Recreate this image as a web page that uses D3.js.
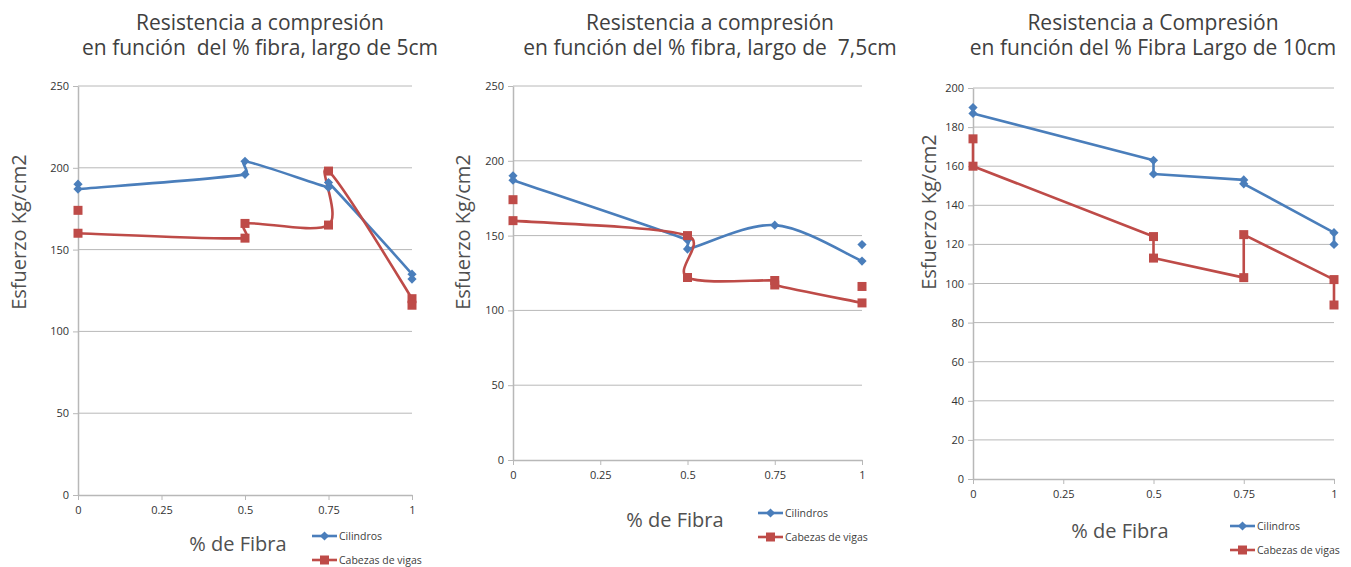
<!DOCTYPE html>
<html>
<head>
<meta charset="utf-8">
<script src="https://cdn.jsdelivr.net/npm/d3@7"></script>
<style>
  body { margin: 0; background: #fff; }
  text { font-family: "Open Sans", "Noto Sans", sans-serif; }
</style>
</head>
<body>
<svg id="chart" width="1351" height="567"></svg>
<script>
// Shared axis values
const xTicks = [0, 0.25, 0.5, 0.75, 1];
const yTicks250 = [0, 50, 100, 150, 200, 250];
const yTicks200 = [0, 20, 40, 60, 80, 100, 120, 140, 160, 180, 200];
const seriesNames = ["Cilindros", "Cabezas de vigas"];
const yAxisTitle = "Esfuerzo Kg/cm2";
const xAxisTitle = "% de Fibra";

// Fibre length 5 cm  ([% fibra, kg/cm2]; null = break in the line)
const cilindros5 = [[0, 190], null, [0, 187], [0.5, 196], [0.5, 204], [0.75, 188], [0.75, 191], [1, 135], [1, 132]];
const cabezas5   = [[0, 174], null, [0, 160], [0.5, 157], [0.5, 166], [0.75, 165], [0.75, 198], [1, 120], [1, 116]];
const titulo5 = ["Resistencia a compresión", "en función  del % fibra, largo de 5cm"];

// Fibre length 7.5 cm
const cilindros75 = [[0, 190], null, [0, 187], [0.5, 147], [0.5, 141], [0.75, 157], [1, 133], null, [1, 144]];
const cabezas75   = [[0, 174], null, [0, 160], [0.5, 150], [0.5, 122], [0.75, 120], [0.75, 117], [1, 105], null, [1, 116]];
const titulo75 = ["Resistencia a compresión", "en función del % fibra, largo de  7,5cm"];

// Fibre length 10 cm
const cilindros10 = [[0, 190], [0, 187], [0.5, 163], [0.5, 156], [0.75, 153], [0.75, 151], [1, 126], [1, 120]];
const cabezas10   = [[0, 174], [0, 160], [0.5, 124], [0.5, 113], [0.75, 103], [0.75, 125], [1, 102], [1, 89]];
const titulo10 = ["Resistencia a Compresión", "en función del % Fibra Largo de 10cm"];

const colors = ["#4a7ebb", "#be4b48"];
const textColor = "#404040";
const gridColor = "#b8b8b8";

const panels = [
  { title: titulo5, series: [cilindros5, cabezas5], yTicks: yTicks250, yMax: 250, smooth: true,
    plot: { x0: 78, x1: 412, y0: 86, y1: 495 }, titleX: 260,
    yLabel: { x: 18, y: 232 }, xLabel: { x: 238, y: 551 }, legend: { x: 312, y: 536 } },
  { title: titulo75, series: [cilindros75, cabezas75], yTicks: yTicks250, yMax: 250, smooth: true,
    plot: { x0: 513, x1: 862, y0: 86, y1: 460 }, titleX: 710,
    yLabel: { x: 462, y: 232 }, xLabel: { x: 675, y: 527 }, legend: { x: 758, y: 513 } },
  { title: titulo10, series: [cilindros10, cabezas10], yTicks: yTicks200, yMax: 200, smooth: false,
    plot: { x0: 973, x1: 1334, y0: 88, y1: 479 }, titleX: 1153,
    yLabel: { x: 928, y: 212 }, xLabel: { x: 1120, y: 538 }, legend: { x: 1230, y: 526 } }
];

const svg = d3.select("#chart");

function marker(g, kind, color) {
  if (kind === 0) {
    const r = 4.6;
    return g.append("path")
      .attr("d", `M0,${-r}L${r},0L0,${r}L${-r},0Z`)
      .attr("fill", color);
  }
  return g.append("path")
    .attr("d", d3.symbol(d3.symbolSquare, 81)())
    .attr("fill", color);
}

// Spreadsheet-style smoothed line: cubic Bezier per segment with control
// arms of 1/6 of the neighbour chord, capped at half the segment length.
function smoothPath(pts) {
  const p = d3.path();
  const dist = (a, b) => Math.hypot(b[0] - a[0], b[1] - a[1]);
  p.moveTo(pts[0][0], pts[0][1]);
  for (let i = 0; i < pts.length - 1; i++) {
    const p0 = pts[Math.max(i - 1, 0)], p1 = pts[i], p2 = pts[i + 1], p3 = pts[Math.min(i + 2, pts.length - 1)];
    const d12 = dist(p1, p2), d02 = dist(p0, p2), d13 = dist(p1, p3);
    let f = 1 / 6, g = 1 / 6;
    if (d02 / 6 >= d12 / 2 && d02 > 0) f = d12 / 2 / d02;
    if (d13 / 6 >= d12 / 2 && d13 > 0) g = d12 / 2 / d13;
    const c1 = [p1[0] + f * (p2[0] - p0[0]), p1[1] + f * (p2[1] - p0[1])];
    const c2 = [p2[0] - g * (p3[0] - p1[0]), p2[1] - g * (p3[1] - p1[1])];
    p.bezierCurveTo(c1[0], c1[1], c2[0], c2[1], p2[0], p2[1]);
  }
  return p.toString();
}

panels.forEach(p => {
  const g = svg.append("g");
  const x = d3.scaleLinear().domain([0, 1]).range([p.plot.x0, p.plot.x1]);
  const y = d3.scaleLinear().domain([0, p.yMax]).range([p.plot.y1, p.plot.y0]);

  // Title
  const t = g.append("text")
    .attr("text-anchor", "middle")
    .attr("fill", textColor)
    .attr("font-size", 21)
    .style("white-space", "pre");
  p.title.forEach((line, i) => {
    t.append("tspan").attr("x", p.titleX).attr("y", 30 + i * 25).text(line);
  });

  // Horizontal gridlines
  g.append("g")
    .selectAll("line")
    .data(p.yTicks.filter(v => v > 0))
    .join("line")
    .attr("x1", p.plot.x0).attr("x2", p.plot.x1)
    .attr("y1", d => y(d)).attr("y2", d => y(d))
    .attr("stroke", gridColor).attr("stroke-width", 1);

  // Axes
  const ya = g.append("g")
    .attr("transform", `translate(${p.plot.x0},0)`)
    .call(d3.axisLeft(y).tickValues(p.yTicks).tickSize(5).tickPadding(4).tickSizeOuter(0));
  const xa = g.append("g")
    .attr("transform", `translate(0,${p.plot.y1})`)
    .call(d3.axisBottom(x).tickValues(xTicks).tickFormat(d3.format("")).tickSize(5).tickPadding(6).tickSizeOuter(0));

  [ya, xa].forEach(a => {
    a.select(".domain").attr("stroke", gridColor).attr("stroke-width", 1.5);
    a.selectAll(".tick line").attr("stroke", gridColor);
    a.selectAll(".tick text")
      .attr("fill", "#333")
      .attr("font-size", 11)
      .style("font-family", '"Open Sans", "Noto Sans", sans-serif');
  });

  // Axis titles
  g.append("text")
    .attr("transform", `translate(${p.yLabel.x},${p.yLabel.y}) rotate(-90)`)
    .attr("text-anchor", "middle")
    .attr("dominant-baseline", "central")
    .attr("fill", "#505050")
    .attr("font-size", 20)
    .text(yAxisTitle);
  g.append("text")
    .attr("x", p.xLabel.x).attr("y", p.xLabel.y)
    .attr("text-anchor", "middle")
    .attr("fill", "#505050")
    .attr("font-size", 20)
    .text(xAxisTitle);

  // Series lines: split at breaks, smoothed or straight
  p.series.forEach((s, i) => {
    const runs = [];
    let cur = [];
    s.forEach(d => {
      if (d == null) { if (cur.length) runs.push(cur); cur = []; }
      else cur.push([x(d[0]), y(d[1])]);
    });
    if (cur.length) runs.push(cur);
    runs.filter(r => r.length > 1).forEach(r => {
      g.append("path")
        .attr("d", p.smooth ? smoothPath(r) : d3.line()(r))
        .attr("fill", "none")
        .attr("stroke", colors[i])
        .attr("stroke-width", 2.6)
        .attr("stroke-linejoin", "round");
    });
  });
  p.series.forEach((s, i) => {
    s.filter(d => d != null).forEach(d => {
      marker(g, i, colors[i]).attr("transform", `translate(${x(d[0])},${y(d[1])})`);
    });
  });

  // Legend
  seriesNames.forEach((name, i) => {
    const ly = p.legend.y + i * 24;
    const lg = g.append("g").attr("transform", `translate(${p.legend.x},${ly})`);
    lg.append("line").attr("x1", 0).attr("x2", 25).attr("y1", 0).attr("y2", 0)
      .attr("stroke", colors[i]).attr("stroke-width", 2.6);
    marker(lg, i, colors[i]).attr("transform", "translate(12.5,0)");
    lg.append("text")
      .attr("x", 27).attr("y", 0)
      .attr("dominant-baseline", "central")
      .attr("fill", textColor)
      .attr("font-size", 10.5)
      .text(name);
  });
});
</script>
</body>
</html>
